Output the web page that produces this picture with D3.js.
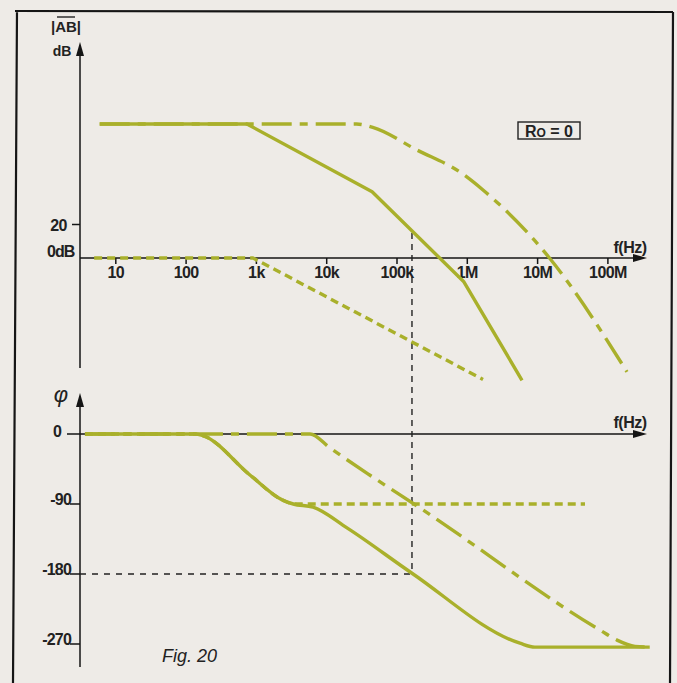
<!DOCTYPE html>
<html>
<head>
<meta charset="utf-8">
<script src="https://cdn.jsdelivr.net/npm/d3@7/dist/d3.min.js"></script>
<style>
  html,body{margin:0;padding:0;background:#eeebe7;}
  svg{display:block;}
  text{font-family:"Liberation Sans",Arial,Helvetica,sans-serif;fill:#222;}
</style>
</head>
<body>
<script>
// ---------- data ----------
const freqTicks = [10, 100, 1e3, 1e4, 1e5, 1e6, 1e7, 1e8];
const freqTickLabels = ["10", "100", "1k", "10k", "100k", "1M", "10M", "100M"];
const gainTicks = [0, 20];
const gainTickLabels = ["0dB", "20"];
const phaseTicks = [0, -90, -180, -270];
const phaseTickLabels = ["0", "-90", "-180", "-270"];

// magnitude (Hz, dB)
const magSolidF  = [6, 745, 45e3, 9.0e5, 6.1e6];
const magSolidDB = [80, 80, 39.5, -14, -73];
const magDashDotF  = [6, 27e3, 46e3, 1.95e5, 8.0e5, 1.7e6, 1.5e7, 1.9e8];
const magDashDotDB = [80, 80, 78, 64.5, 51.3, 40.6, 0, -68];
const magDotF  = [5, 910, 1.7e6];
const magDotDB = [0, 0, -72.5];

// phase (Hz, degrees)
const phSolidF   = [3.7, 135, 175, 830, 2.4e3, 3.4e3, 6.5e3, 2.0e4, 1.66e5, 5.7e6, 9.3e6, 4.0e8];
const phSolidDeg = [0, 0, -2, -53, -85, -90, -94, -121, -179, -269, -274, -274];
const phDotF   = [3.7, 135, 175, 830, 2.4e3, 3.6e3, 4.8e7];
const phDotDeg = [0, 0, -2, -53, -85, -90, -90];
const phDashDotF   = [3.7, 5.9e3, 1.1e4, 1.58e4, 4.2e4, 2.15e5, 7.8e7, 1.37e8, 2.47e8, 4.0e8];
const phDashDotDeg = [0, 0, -17, -27, -53, -95, -252, -265, -273, -274];

// phase-margin construction
const pmFreq = 1.66e5;
const pmGain = 15;
const pmPhase = -180;

// ---------- layout ----------
const W = 677, H = 683;
const green = "#a9b02b";
const svg = d3.select("body").append("svg").attr("width", W).attr("height", H);
svg.append("rect").attr("width", W).attr("height", H).attr("fill", "#eeebe7");

const x = d3.scaleLog().domain([1, 1e8]).range([45, 607.4]);
const yMag = d3.scaleLinear().domain([0, 80]).range([258, 124]);
const yPh = d3.scaleLinear().domain([0, -270]).range([434, 644]);

const axisX0 = 80, axisXEnd = 647;

// frame
svg.append("path").attr("d", "M17,10 L13,683 M15,11 L673,12 M673,12 L670,683")
  .attr("stroke", "#151515").attr("stroke-width", 2.2).attr("fill", "none");

function arrow(g, tx, ty, dir) {
  let p;
  if (dir === "up") p = [[tx, ty], [tx - 4, ty + 14], [tx + 4, ty + 14]];
  else p = [[tx, ty], [tx - 14, ty - 4], [tx - 14, ty + 4]];
  g.append("path").attr("d", "M" + p.map(d => d.join(",")).join("L") + "Z").attr("fill", "#151515");
}

// ---------- magnitude axes ----------
const gMag = svg.append("g");
gMag.append("line").attr("x1", axisX0).attr("x2", axisX0).attr("y1", 48).attr("y2", 368)
  .attr("stroke", "#151515").attr("stroke-width", 1.5);
arrow(gMag, axisX0, 42, "up");
gMag.append("line").attr("x1", axisX0).attr("x2", axisXEnd - 6).attr("y1", yMag(0)).attr("y2", yMag(0))
  .attr("stroke", "#151515").attr("stroke-width", 1.5);
arrow(gMag, axisXEnd, yMag(0), "right");

const xAxis = d3.axisBottom(x).tickValues(freqTicks).tickFormat((d, i) => freqTickLabels[i]).tickSize(6).tickPadding(3);
const gx = gMag.append("g").attr("transform", `translate(0,${yMag(0)})`).call(xAxis);
gx.select(".domain").remove();
gx.selectAll(".tick line").attr("stroke", "#151515").attr("stroke-width", 1.5);
gx.selectAll(".tick text").attr("font-size", 16).attr("font-weight", "bold").attr("fill", "#222")
  .attr("letter-spacing", -0.6).attr("font-family", "Liberation Sans, Arial, sans-serif");

// gain ticks
gainTicks.forEach((v, i) => {
  if (v !== 0) {
    gMag.append("line").attr("x1", 72).attr("x2", axisX0).attr("y1", yMag(v)).attr("y2", yMag(v))
      .attr("stroke", "#151515").attr("stroke-width", 1.5);
    gMag.append("text").attr("x", 67).attr("y", yMag(v) + 6).attr("text-anchor", "end")
      .attr("font-size", 16).attr("font-weight", "bold").attr("letter-spacing", -0.5).text(gainTickLabels[i]);
  } else {
    gMag.append("text").attr("x", 47).attr("y", yMag(v) - 1).attr("text-anchor", "start")
      .attr("font-size", 16).attr("font-weight", "bold").attr("letter-spacing", -1).text(gainTickLabels[i]);
  }
});

// axis title |AB| dB
gMag.append("text").attr("x", 66).attr("y", 32).attr("text-anchor", "middle")
  .attr("font-size", 15).attr("font-weight", "bold").text("|AB|");
gMag.append("line").attr("x1", 57).attr("x2", 75).attr("y1", 17).attr("y2", 17)
  .attr("stroke", "#222").attr("stroke-width", 1.4);
gMag.append("text").attr("x", 62).attr("y", 56).attr("text-anchor", "middle")
  .attr("font-size", 14).attr("font-weight", "bold").text("dB");
gMag.append("text").attr("x", 630).attr("y", 253).attr("text-anchor", "middle")
  .attr("font-size", 16).attr("font-weight", "bold").attr("letter-spacing", -0.5).text("f(Hz)");

// R0 = 0 box
gMag.append("rect").attr("x", 518).attr("y", 122).attr("width", 62).attr("height", 17)
  .attr("fill", "none").attr("stroke", "#222").attr("stroke-width", 1.4);
const rt = gMag.append("text").attr("x", 549).attr("y", 137).attr("text-anchor", "middle")
  .attr("font-size", 16).attr("font-weight", "bold");
rt.append("tspan").text("R");
rt.append("tspan").attr("font-size", 12).text("O");
rt.append("tspan").text(" = 0");

// ---------- phase axes ----------
const gPh = svg.append("g");
gPh.append("line").attr("x1", axisX0).attr("x2", axisX0).attr("y1", 399).attr("y2", 667)
  .attr("stroke", "#151515").attr("stroke-width", 1.5);
arrow(gPh, axisX0, 393, "up");
gPh.append("line").attr("x1", axisX0).attr("x2", axisXEnd - 6).attr("y1", yPh(0)).attr("y2", yPh(0))
  .attr("stroke", "#151515").attr("stroke-width", 1.5);
arrow(gPh, axisXEnd, yPh(0), "right");
gPh.append("text").attr("x", 630).attr("y", 428).attr("text-anchor", "middle")
  .attr("font-size", 16).attr("font-weight", "bold").attr("letter-spacing", -0.5).text("f(Hz)");
gPh.append("text").attr("x", 61).attr("y", 402).attr("text-anchor", "middle")
  .attr("font-size", 22).attr("font-style", "italic").attr("font-family", "DejaVu Serif, serif").text("φ");

phaseTicks.forEach((v, i) => {
  gPh.append("line").attr("x1", v === 0 ? 67 : 70).attr("x2", axisX0).attr("y1", yPh(v)).attr("y2", yPh(v))
    .attr("stroke", "#151515").attr("stroke-width", 1.5);
  gPh.append("text").attr("x", v === 0 ? 61 : 71).attr("y", yPh(v) + (v === 0 ? 3 : 1)).attr("text-anchor", "end")
    .attr("font-size", 16).attr("font-weight", "bold").attr("letter-spacing", -0.8).text(phaseTickLabels[i]);
});

svg.append("text").attr("x", 162).attr("y", 662).attr("font-size", 18).attr("font-style", "italic")
  .attr("fill", "#222").text("Fig. 20");

// ---------- construction lines ----------
svg.append("line").attr("x1", x(pmFreq)).attr("x2", x(pmFreq)).attr("y1", yMag(pmGain)).attr("y2", yPh(pmPhase))
  .attr("stroke", "#222").attr("stroke-width", 1.4).attr("stroke-dasharray", "6,5");
svg.append("line").attr("x1", axisX0).attr("x2", x(pmFreq)).attr("y1", yPh(pmPhase)).attr("y2", yPh(pmPhase))
  .attr("stroke", "#222").attr("stroke-width", 1.4).attr("stroke-dasharray", "6,6");

// ---------- curves ----------
function draw(fs, vs, yS, curve, dash) {
  const pts = fs.map((f, i) => [x(f), yS(vs[i])]);
  const line = d3.line().curve(curve);
  svg.append("path").attr("d", line(pts)).attr("fill", "none").attr("stroke", green)
    .attr("stroke-width", 3.4).attr("stroke-linecap", "butt").attr("stroke-linejoin", "round")
    .attr("stroke-dasharray", dash);
}

draw(magDotF, magDotDB, yMag, d3.curveLinear, "8,5");
draw(magDashDotF, magDashDotDB, yMag, d3.curveMonotoneX, "30,8,8,8");
draw(magSolidF, magSolidDB, yMag, d3.curveLinear, null);

draw(phDotF, phDotDeg, yPh, d3.curveMonotoneX, "8,5");
draw(phDashDotF, phDashDotDeg, yPh, d3.curveMonotoneX, "30,8,8,8");
draw(phSolidF, phSolidDeg, yPh, d3.curveMonotoneX, null);
</script>
</body>
</html>
